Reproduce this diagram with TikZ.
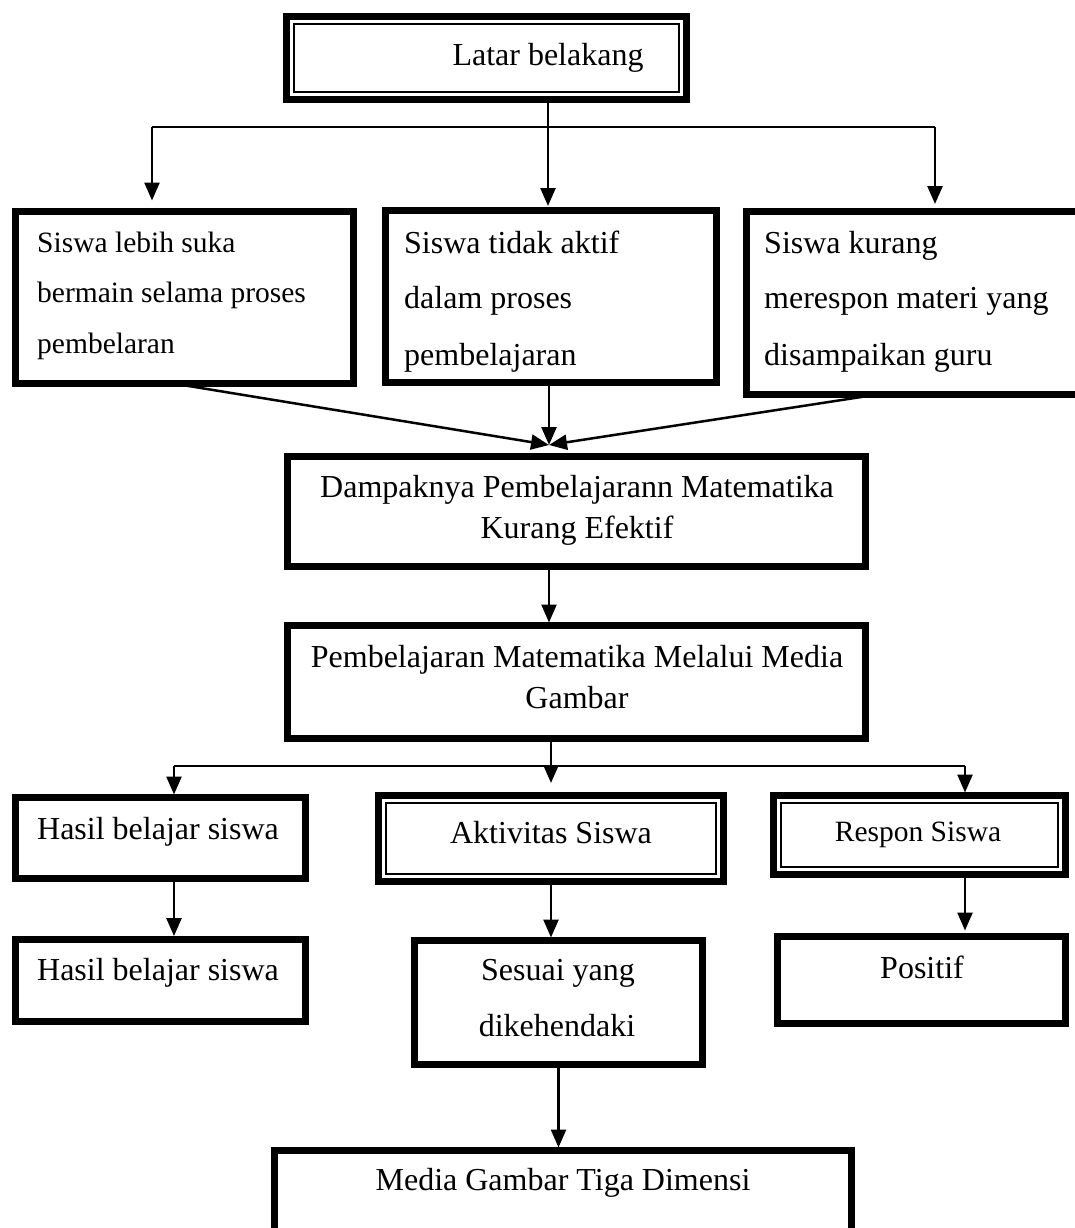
\documentclass[tikz,border=0pt]{standalone}
\usepackage{fontspec}
\setmainfont{Liberation Serif}
\usetikzlibrary{arrows.meta}
\begin{document}
\begin{tikzpicture}[x=1pt,y=-1pt,
  box/.style={draw, line width=7pt, rectangle, inner sep=0pt, outer sep=0pt},
  inbox/.style={line width=2pt},
  conn/.style={line width=2.5pt},
  arr/.style={conn, -{Triangle[length=18pt,width=15pt]}},
  txt/.style={anchor=base, inner sep=0pt, font=\fontsize{32}{38}\selectfont},
  txtl/.style={anchor=base west, inner sep=0pt, font=\fontsize{32}{38}\selectfont},
  txtsm/.style={anchor=base west, inner sep=0pt, font=\fontsize{29.5}{36}\selectfont},
]
\useasboundingbox (0,0) rectangle (1075,1228);
\clip (0,0) rectangle (1075,1228);

% boxes
\node[box, minimum width=400pt, minimum height=83pt] (lb) at (486.5,58) {};
\draw[inbox] ([shift={(7.5,7.5)}]lb.north west) rectangle ([shift={(-7.5,-7.5)}]lb.south east);
\node[box, minimum width=338pt, minimum height=172pt] (b1) at (184.3,297.5) {};
\node[box, minimum width=331pt, minimum height=172pt] (b2) at (551,296.5) {};
\node[box, minimum width=344pt, minimum height=183pt] (b3) at (918.5,303) {};
\node[box, minimum width=578pt, minimum height=110pt] (d) at (576.5,511.5) {};
\node[box, minimum width=578pt, minimum height=113pt] (p) at (576.5,682) {};
\node[box, minimum width=290pt, minimum height=81pt] (h1) at (160.5,838) {};
\node[box, minimum width=345pt, minimum height=86pt] (a) at (551,838.5) {};
\draw[inbox] ([shift={(7.5,7.5)}]a.north west) rectangle ([shift={(-7.5,-7.5)}]a.south east);
\node[box, minimum width=292pt, minimum height=79pt] (r) at (919.5,835) {};
\draw[inbox] ([shift={(7.5,7.5)}]r.north west) rectangle ([shift={(-7.5,-7.5)}]r.south east);
\node[box, minimum width=290pt, minimum height=82.5pt] (h2) at (160.5,980.3) {};
\node[box, minimum width=288pt, minimum height=124pt] (s) at (558.5,1002.5) {};
\node[box, minimum width=288pt, minimum height=87pt] (pos) at (921.5,980) {};
\node[box, minimum width=577pt, minimum height=109pt] (md) at (563,1205) {};

% texts
\node[txt] (lbt) at (548,66) {Latar belakang};
\node[txtsm] (b1a) at (37,252) {Siswa lebih suka};
\node[txtsm] (b1b) at (37,302) {bermain selama proses};
\node[txtsm] (b1c) at (37,353) {pembelaran};
\node[txtl] (b2a) at (404,253) {Siswa tidak aktif};
\node[txtl] (b2b) at (404,308) {dalam proses};
\node[txtl] (b2c) at (404,365) {pembelajaran};
\node[txtl] (b3a) at (764,253) {Siswa kurang};
\node[txtl] (b3b) at (764,308) {merespon materi yang};
\node[txtl] (b3c) at (764,365) {disampaikan guru};
\node[txt] (da) at (577,497) {Dampaknya Pembelajarann Matematika};
\node[txt] (db) at (577,538) {Kurang Efektif};
\node[txt] (pa) at (577,667) {Pembelajaran Matematika Melalui Media};
\node[txt] (pb) at (577,708) {Gambar};
\node[txt] (h1t) at (158,839) {Hasil belajar siswa};
\node[txt] (at) at (551,843) {Aktivitas Siswa};
\node[txt, font=\fontsize{29.5}{36}\selectfont] (rt) at (918,841) {Respon Siswa};
\node[txt] (h2t) at (158,980) {Hasil belajar siswa};
\node[txt] (sa) at (558,980) {Sesuai yang};
\node[txt] (sb) at (557,1036) {dikehendaki};
\node[txt] (post) at (922,978) {Positif};
\node[txt] (mdt) at (563,1190) {Media Gambar Tiga Dimensi};

% top fork
\coordinate (f0) at (548,127);
\coordinate (fL) at (152,127);
\coordinate (fR) at (935,127);
\draw[conn] (lb.south -| f0) -- (f0);
\draw[conn] (fL) -- (fR);
\draw[arr, shorten >=4.5pt] (f0) -- (f0 |- b2.north);
\draw[arr, shorten >=11pt] (fL) -- (fL |- b1.north);
\draw[arr, shorten >=7.5pt] (fR) -- (fR |- b3.north);

% converging
\coordinate (m) at (549,445);
\draw[arr] ([xshift=-11pt]b1.south) -- (m);
\draw[arr] (b2.south -| m) -- (m);
\draw[arr] ([xshift=-41pt]b3.south) -- (m);

\draw[arr, shorten >=3pt] (d.south -| m) -- (p.north -| m);

% second fork
\coordinate (g0) at (551,766);
\coordinate (gL) at (174,766);
\coordinate (gR) at (965,766);
\draw[arr, shorten >=12.5pt] (p.south -| g0) -- (g0 |- a.north);
\draw[conn] (gL) -- (gR);
\draw[arr, shorten >=3pt] (gL) -- (gL |- h1.north);
\draw[arr, shorten >=3pt] (gR) -- (gR |- r.north);

% lower arrows
\draw[arr, shorten >=3pt] (h1.south -| gL) -- (h2.north -| gL);
\draw[arr, shorten >=3pt] (a.south) -- (s.north -| a.south);
\draw[arr, shorten >=6pt] (r.south -| gR) -- (pos.north -| gR);
\draw[arr, shorten >=3pt] (s.south) -- (md.north -| s.south);
\end{tikzpicture}
\end{document}
